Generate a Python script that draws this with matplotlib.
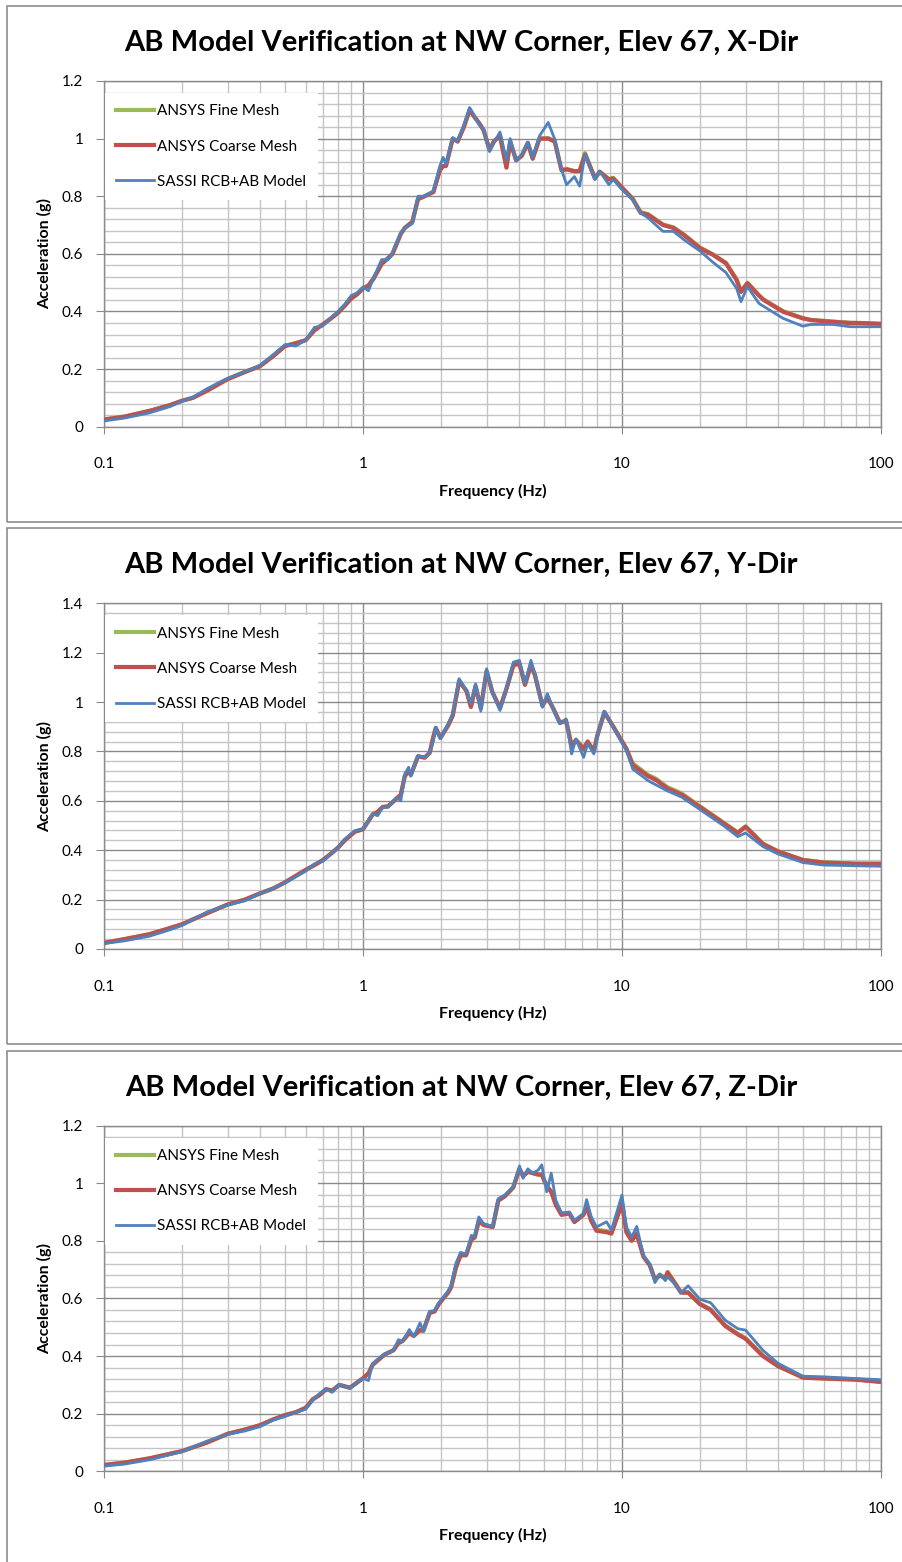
import matplotlib
matplotlib.use('Agg')
import matplotlib.pyplot as plt
from matplotlib.ticker import FixedLocator, FuncFormatter, MultipleLocator, NullFormatter
from matplotlib.patches import Rectangle

plt.rcParams['font.family'] = ['Lato', 'DejaVu Sans']

# --- X direction ---
freq_x = [0.10, 0.12, 0.15, 0.18, 0.20, 0.22, 0.25, 0.28, 0.30, 0.35, 0.40, 0.45, 0.50, 0.55,
          0.60, 0.65, 0.70, 0.75, 0.80, 0.85, 0.90, 0.95, 1.00, 1.05, 1.10, 1.18, 1.25, 1.30,
          1.40, 1.45, 1.55, 1.63, 1.73, 1.87, 1.98, 2.04, 2.09, 2.22, 2.32, 2.45, 2.58, 2.67,
          2.80, 2.92, 3.08, 3.20, 3.38, 3.58, 3.70, 3.90, 4.10, 4.33, 4.52, 4.80, 5.19, 5.50,
          5.84, 6.11, 6.55, 6.86, 7.20, 7.86, 8.20, 8.90, 9.25, 10.0, 11.0, 11.8, 12.6, 14.4,
          15.8, 17.3, 18.5, 20.0, 22.5, 25.2, 27.7, 28.8, 30.5, 33.8, 35.2, 41.9, 49.9, 53.7,
          65.2, 76.0, 82.6, 100.0]
fine_x = [0.025, 0.035, 0.055, 0.075, 0.090, 0.100, 0.125, 0.150, 0.165, 0.190, 0.210, 0.245,
          0.280, 0.290, 0.300, 0.335, 0.355, 0.375, 0.395, 0.420, 0.445, 0.460, 0.480, 0.490,
          0.515, 0.565, 0.585, 0.600, 0.670, 0.690, 0.712, 0.790, 0.800, 0.815, 0.892, 0.905,
          0.905, 1.000, 0.990, 1.040, 1.098, 1.080, 1.055, 1.030, 0.962, 0.990, 1.010, 0.902,
          0.990, 0.925, 0.940, 0.985, 0.932, 1.000, 1.002, 0.990, 0.892, 0.895, 0.887, 0.888,
          0.950, 0.862, 0.885, 0.860, 0.864, 0.830, 0.792, 0.745, 0.738, 0.702, 0.692, 0.668,
          0.647, 0.622, 0.598, 0.569, 0.512, 0.470, 0.500, 0.456, 0.442, 0.401, 0.377, 0.371,
          0.365, 0.361, 0.360, 0.357]
coarse_x = [0.025, 0.035, 0.055, 0.075, 0.090, 0.100, 0.125, 0.150, 0.165, 0.190, 0.210, 0.245,
            0.280, 0.290, 0.300, 0.335, 0.355, 0.375, 0.395, 0.420, 0.445, 0.460, 0.480, 0.490,
            0.515, 0.565, 0.585, 0.600, 0.670, 0.690, 0.710, 0.790, 0.800, 0.815, 0.890, 0.905,
            0.905, 1.000, 0.990, 1.040, 1.100, 1.080, 1.055, 1.030, 0.960, 0.990, 1.010, 0.899,
            0.990, 0.925, 0.940, 0.985, 0.930, 1.000, 1.000, 0.990, 0.890, 0.893, 0.887, 0.887,
            0.945, 0.862, 0.885, 0.858, 0.862, 0.830, 0.790, 0.742, 0.736, 0.700, 0.690, 0.666,
            0.645, 0.620, 0.596, 0.567, 0.509, 0.468, 0.498, 0.455, 0.440, 0.399, 0.376, 0.370,
            0.364, 0.360, 0.360, 0.357]
sassi_x = [0.020, 0.030, 0.048, 0.070, 0.088, 0.102, 0.132, 0.155, 0.168, 0.190, 0.213, 0.250,
           0.285, 0.280, 0.300, 0.345, 0.350, 0.378, 0.400, 0.425, 0.455, 0.465, 0.485, 0.472,
           0.518, 0.580, 0.580, 0.605, 0.672, 0.690, 0.705, 0.800, 0.800, 0.818, 0.905, 0.935,
           0.910, 1.003, 0.992, 1.045, 1.108, 1.085, 1.050, 1.032, 0.955, 0.985, 1.023, 0.925,
           1.000, 0.922, 0.945, 0.988, 0.934, 1.009, 1.056, 0.998, 0.893, 0.840, 0.868, 0.835,
           0.945, 0.858, 0.887, 0.840, 0.858, 0.823, 0.788, 0.742, 0.725, 0.678, 0.678, 0.650,
           0.631, 0.610, 0.570, 0.535, 0.480, 0.434, 0.486, 0.428, 0.418, 0.376, 0.349, 0.355,
           0.355, 0.347, 0.347, 0.347]

# --- Y direction ---
freq_y = [0.10, 0.12, 0.15, 0.18, 0.20, 0.25, 0.30, 0.35, 0.40, 0.45, 0.50, 0.60, 0.65, 0.70,
          0.75, 0.80, 0.85, 0.93, 1.00, 1.09, 1.14, 1.19, 1.25, 1.35, 1.40, 1.45, 1.50, 1.53,
          1.63, 1.73, 1.81, 1.87, 1.91, 1.99, 2.13, 2.22, 2.35, 2.51, 2.61, 2.72, 2.85, 3.00,
          3.16, 3.38, 3.57, 3.81, 4.02, 4.22, 4.45, 4.61, 4.93, 5.15, 5.42, 5.76, 6.08, 6.39,
          6.64, 7.11, 7.37, 7.79, 8.01, 8.55, 9.25, 10.4, 11.0, 12.6, 13.5, 15.0, 17.0, 20.0,
          25.0, 28.0, 30.0, 35.0, 40.0, 50.0, 60.0, 80.0, 100.0]
fine_y = [0.025, 0.040, 0.060, 0.085, 0.100, 0.145, 0.180, 0.200, 0.225, 0.245, 0.270, 0.320,
          0.340, 0.360, 0.385, 0.410, 0.440, 0.475, 0.485, 0.545, 0.555, 0.575, 0.578, 0.610,
          0.625, 0.700, 0.720, 0.705, 0.780, 0.775, 0.795, 0.860, 0.895, 0.855, 0.905, 0.945,
          1.085, 1.045, 0.982, 1.065, 0.975, 1.125, 1.040, 0.975, 1.050, 1.150, 1.155, 1.070,
          1.150, 1.110, 0.985, 1.020, 0.975, 0.917, 0.925, 0.825, 0.847, 0.815, 0.840, 0.802,
          0.860, 0.958, 0.902, 0.812, 0.752, 0.705, 0.690, 0.655, 0.630, 0.578, 0.508, 0.472,
          0.497, 0.427, 0.396, 0.361, 0.351, 0.346, 0.346]
coarse_y = [0.025, 0.040, 0.060, 0.085, 0.100, 0.145, 0.180, 0.200, 0.225, 0.245, 0.270, 0.320,
            0.340, 0.360, 0.385, 0.410, 0.440, 0.475, 0.485, 0.545, 0.555, 0.575, 0.578, 0.610,
            0.625, 0.700, 0.720, 0.705, 0.780, 0.775, 0.795, 0.860, 0.895, 0.855, 0.905, 0.945,
            1.085, 1.045, 0.980, 1.065, 0.975, 1.125, 1.040, 0.975, 1.050, 1.150, 1.155, 1.070,
            1.150, 1.110, 0.985, 1.020, 0.975, 0.915, 0.925, 0.820, 0.845, 0.810, 0.840, 0.800,
            0.860, 0.960, 0.900, 0.810, 0.745, 0.700, 0.685, 0.650, 0.625, 0.575, 0.505, 0.470,
            0.495, 0.425, 0.395, 0.360, 0.350, 0.345, 0.345]
sassi_y = [0.022, 0.033, 0.052, 0.078, 0.095, 0.150, 0.178, 0.195, 0.225, 0.245, 0.268, 0.315,
           0.345, 0.355, 0.385, 0.410, 0.445, 0.479, 0.486, 0.547, 0.540, 0.574, 0.574, 0.614,
           0.600, 0.709, 0.736, 0.700, 0.783, 0.777, 0.797, 0.844, 0.898, 0.851, 0.912, 0.952,
           1.095, 1.047, 0.993, 1.074, 0.963, 1.135, 1.040, 0.966, 1.054, 1.162, 1.169, 1.074,
           1.169, 1.115, 0.979, 1.034, 0.973, 0.912, 0.932, 0.790, 0.851, 0.776, 0.831, 0.790,
           0.858, 0.963, 0.898, 0.804, 0.729, 0.682, 0.665, 0.640, 0.615, 0.565, 0.495, 0.455,
           0.470, 0.415, 0.385, 0.350, 0.340, 0.337, 0.335]

# --- Z direction ---
freq_z = [0.10, 0.12, 0.15, 0.20, 0.25, 0.30, 0.35, 0.40, 0.45, 0.50, 0.55, 0.60, 0.64, 0.68,
          0.72, 0.76, 0.81, 0.89, 1.00, 1.05, 1.09, 1.21, 1.31, 1.37, 1.42, 1.51, 1.57, 1.66,
          1.71, 1.81, 1.89, 1.96, 2.04, 2.13, 2.19, 2.28, 2.38, 2.50, 2.62, 2.70, 2.80, 2.92,
          3.17, 3.33, 3.53, 3.80, 4.02, 4.15, 4.33, 4.52, 4.74, 4.90, 5.12, 5.33, 5.55, 5.84,
          6.26, 6.55, 7.10, 7.30, 7.60, 7.97, 8.72, 9.10, 10.0, 10.4, 10.9, 11.4, 12.1, 12.8,
          13.4, 14.0, 14.7, 15.0, 15.8, 16.9, 18.0, 20.0, 22.0, 25.0, 28.0, 30.0, 35.0, 40.0,
          50.0, 60.0, 80.0, 100.0]
fine_z = [0.022, 0.030, 0.045, 0.070, 0.100, 0.130, 0.145, 0.160, 0.180, 0.195, 0.205, 0.220,
          0.250, 0.265, 0.285, 0.280, 0.300, 0.290, 0.323, 0.340, 0.370, 0.405, 0.420, 0.445,
          0.452, 0.480, 0.470, 0.490, 0.488, 0.550, 0.555, 0.580, 0.600, 0.620, 0.640, 0.705,
          0.750, 0.750, 0.805, 0.812, 0.870, 0.855, 0.848, 0.940, 0.955, 0.985, 1.050, 1.025,
          1.040, 1.035, 1.030, 1.030, 0.990, 0.972, 0.927, 0.892, 0.897, 0.867, 0.892, 0.922,
          0.872, 0.838, 0.834, 0.828, 0.932, 0.832, 0.802, 0.826, 0.747, 0.717, 0.667, 0.682,
          0.672, 0.692, 0.662, 0.622, 0.622, 0.582, 0.562, 0.507, 0.477, 0.462, 0.402, 0.367,
          0.326, 0.323, 0.319, 0.311]
coarse_z = [0.022, 0.030, 0.045, 0.070, 0.100, 0.130, 0.145, 0.160, 0.180, 0.195, 0.205, 0.220,
            0.250, 0.265, 0.285, 0.280, 0.300, 0.290, 0.323, 0.340, 0.370, 0.405, 0.420, 0.445,
            0.452, 0.480, 0.470, 0.490, 0.488, 0.550, 0.555, 0.580, 0.600, 0.620, 0.640, 0.705,
            0.750, 0.750, 0.805, 0.812, 0.870, 0.855, 0.848, 0.940, 0.955, 0.985, 1.050, 1.025,
            1.040, 1.035, 1.030, 1.030, 0.990, 0.970, 0.925, 0.890, 0.895, 0.865, 0.890, 0.920,
            0.870, 0.835, 0.830, 0.825, 0.930, 0.830, 0.800, 0.824, 0.745, 0.715, 0.665, 0.680,
            0.670, 0.690, 0.660, 0.620, 0.620, 0.580, 0.560, 0.505, 0.475, 0.460, 0.400, 0.365,
            0.325, 0.322, 0.318, 0.310]
sassi_z = [0.018, 0.025, 0.040, 0.068, 0.105, 0.128, 0.140, 0.155, 0.178, 0.190, 0.205, 0.215,
           0.247, 0.270, 0.286, 0.274, 0.302, 0.288, 0.323, 0.315, 0.375, 0.407, 0.419, 0.457,
           0.450, 0.492, 0.468, 0.515, 0.486, 0.556, 0.556, 0.585, 0.603, 0.626, 0.646, 0.720,
           0.760, 0.754, 0.819, 0.814, 0.883, 0.860, 0.850, 0.947, 0.959, 0.988, 1.060, 1.017,
           1.050, 1.035, 1.045, 1.064, 0.970, 1.035, 0.941, 0.897, 0.900, 0.871, 0.895, 0.943,
           0.885, 0.848, 0.866, 0.837, 0.959, 0.848, 0.813, 0.850, 0.749, 0.720, 0.655, 0.685,
           0.662, 0.675, 0.655, 0.620, 0.644, 0.597, 0.585, 0.525, 0.495, 0.490, 0.420, 0.375,
           0.330, 0.328, 0.322, 0.318]

titles = ['AB Model Verification at NW Corner, Elev 67, X-Dir',
          'AB Model Verification at NW Corner, Elev 67, Y-Dir',
          'AB Model Verification at NW Corner, Elev 67, Z-Dir']
series_names = ['ANSYS Fine Mesh', 'ANSYS Coarse Mesh', 'SASSI RCB+AB Model']
y_tops = [1.2, 1.4, 1.2]
panels = [(freq_x, fine_x, coarse_x, sassi_x),
          (freq_y, fine_y, coarse_y, sassi_y),
          (freq_z, fine_z, coarse_z, sassi_z)]

W, H = 903, 1562
fig = plt.figure(figsize=(W / 100, H / 100), dpi=100)

grid_major = '#8a8a8a'
grid_minor = '#c4c4c4'
x_minor = [m * 10.0 ** e for e in (-1, 0, 1) for m in range(2, 10)]

for k in range(3):
    off = 522.3 * k
    # chart frame
    fig.patches.append(Rectangle((7 / W, 1 - (522 + off) / H), 908 / W, 516 / H,
                                 transform=fig.transFigure, fill=False,
                                 edgecolor='#8c8c8c', linewidth=1.2, zorder=0))
    top_px, bot_px = 81 + off, 426.7 + off
    ax = fig.add_axes([104 / W, 1 - bot_px / H, 777 / W, (bot_px - top_px) / H])

    f, g, r, b = panels[k]
    ax.plot(f, g, color='#9BBB59', lw=3.0, label=series_names[0], zorder=3)
    ax.plot(f, r, color='#C0504D', lw=3.0, label=series_names[1], zorder=4)
    ax.plot(f, b, color='#4F81BD', lw=2.0, label=series_names[2], zorder=5)

    ax.set_xscale('log')
    ax.set_xlim(0.1, 100)
    ax.set_ylim(0, y_tops[k])
    ax.xaxis.set_major_locator(FixedLocator([0.1, 1, 10, 100]))
    ax.xaxis.set_minor_locator(FixedLocator(x_minor))
    ax.xaxis.set_minor_formatter(NullFormatter())
    ax.xaxis.set_major_formatter(FuncFormatter(lambda v, p: '%g' % v))
    ax.yaxis.set_major_locator(MultipleLocator(0.2))
    ax.yaxis.set_minor_locator(MultipleLocator(0.04))
    ax.yaxis.set_major_formatter(FuncFormatter(lambda v, p: '%g' % round(v, 2)))

    ax.grid(which='major', color=grid_major, lw=1.0, zorder=1)
    ax.grid(which='minor', color=grid_minor, lw=1.0, zorder=1)
    ax.set_axisbelow(True)
    for s in ax.spines.values():
        s.set_color(grid_major)
        s.set_linewidth(1.0)

    ax.tick_params(axis='y', which='major', length=6, color=grid_major, labelsize=11, pad=9)
    ax.tick_params(axis='x', which='major', length=5, color=grid_major, labelsize=11, pad=17)
    ax.tick_params(which='minor', length=0)

    ax.set_xlabel('Frequency (Hz)', fontsize=11.5, fontweight='bold', labelpad=9)
    ax.set_ylabel('Acceleration (g)', fontsize=11.5, fontweight='bold', labelpad=7)

    leg = ax.legend(loc='upper left', bbox_to_anchor=(0.001, 1 - 12 / 345.7),
                    borderaxespad=0, fontsize=11, frameon=True, fancybox=False,
                    framealpha=1, facecolor='white', edgecolor='none',
                    handlelength=2.5, handletextpad=0.2, labelspacing=1.38,
                    borderpad=0.75)
    leg.set_zorder(6)

    fig.text(461 / W, 1 - (43 + off) / H, titles[k], ha='center', va='center',
             fontsize=21, fontweight='bold')

fig.savefig('out.png', dpi=100)
